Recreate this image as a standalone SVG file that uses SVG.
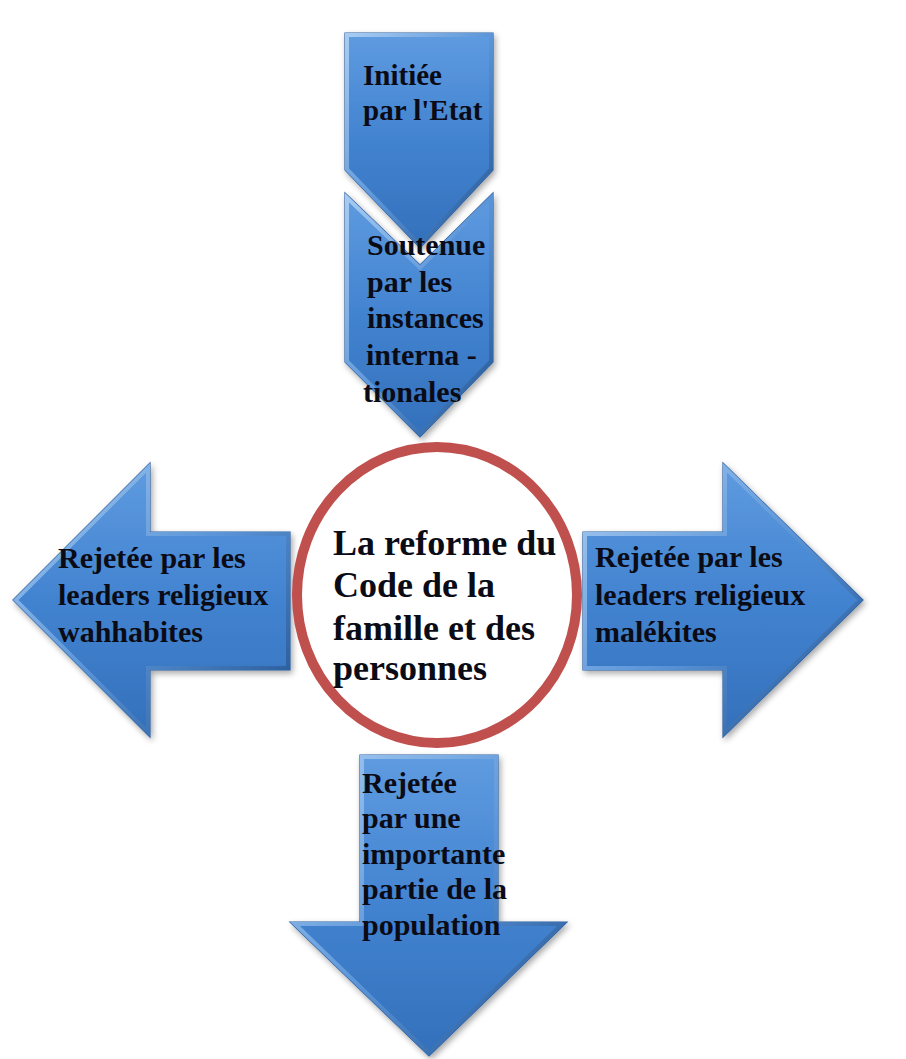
<svg xmlns="http://www.w3.org/2000/svg" xmlns:xlink="http://www.w3.org/1999/xlink" width="906" height="1059" viewBox="0 0 906 1059">
<style>
.shape{fill:url(#blueFill);stroke:#2c5f9e;stroke-width:1.2}
.bevel{fill:none;stroke:url(#bevelGrad);stroke-width:8}
.lbl{font-family:"Liberation Serif","Times New Roman",serif;font-weight:bold;font-size:30px;fill:#0b0b16}
.big{font-size:36px}
.sm{font-size:29px}
</style>
<defs>
<linearGradient id="blueFill" x1="0" y1="0" x2="0" y2="1">
<stop offset="0" stop-color="#5f9be0"/>
<stop offset="0.5" stop-color="#4283d0"/>
<stop offset="1" stop-color="#3470bb"/>
</linearGradient>
<linearGradient id="bevelGrad" x1="0" y1="0" x2="1" y2="1">
<stop offset="0" stop-color="#a9cdf3"/>
<stop offset="0.5" stop-color="#5b95d8"/>
<stop offset="1" stop-color="#1f4f8c"/>
</linearGradient>
<filter id="shadow" x="-10%" y="-10%" width="130%" height="130%">
<feGaussianBlur in="SourceAlpha" stdDeviation="3"/>
<feOffset dx="2" dy="3" result="b"/>
<feComponentTransfer><feFuncA type="linear" slope="0.35"/></feComponentTransfer>
<feMerge><feMergeNode/><feMergeNode in="SourceGraphic"/></feMerge>
</filter>
<path id="pChev1" d="M345,33 H493 V170 L420,248 L345,170 Z"/>
<path id="pChev2" d="M345,193 L420,265 L493,193 V362 L420,437 L345,362 Z"/>
<path id="pLeft" d="M13,600 L150,463 V532 H290 V670 H150 V737 Z"/>
<path id="pRight" d="M583,532 H723 V463 L863,600 L723,737 V670 H583 Z"/>
<path id="pBottom" d="M360,755 H498 V922 H567 L429,1056 L290,922 H360 Z"/>
<clipPath id="cChev1"><use xlink:href="#pChev1"/></clipPath>
<clipPath id="cChev2"><use xlink:href="#pChev2"/></clipPath>
<clipPath id="cLeft"><use xlink:href="#pLeft"/></clipPath>
<clipPath id="cRight"><use xlink:href="#pRight"/></clipPath>
<clipPath id="cBottom"><use xlink:href="#pBottom"/></clipPath>
</defs>
<rect width="906" height="1059" fill="#ffffff"/>
<g id="connectors"/>
<g id="node-initiee">
<use xlink:href="#pChev1" class="shape" filter="url(#shadow)"/>
<use xlink:href="#pChev1" class="bevel" clip-path="url(#cChev1)"/>
<text class="lbl sm" x="363" y="85">Initiée</text>
<text class="lbl sm" x="363" y="120">par l'Etat</text>
</g>
<g id="node-soutenue">
<use xlink:href="#pChev2" class="shape" filter="url(#shadow)"/>
<use xlink:href="#pChev2" class="bevel" clip-path="url(#cChev2)"/>
<text class="lbl" x="367" y="255">Soutenue</text>
<text class="lbl" x="367" y="292">par les</text>
<text class="lbl" x="367" y="328">instances</text>
<text class="lbl" x="366" y="365">interna -</text>
<text class="lbl" x="363" y="402">tionales</text>
</g>
<g id="node-wahhabites">
<use xlink:href="#pLeft" class="shape" filter="url(#shadow)"/>
<use xlink:href="#pLeft" class="bevel" clip-path="url(#cLeft)"/>
<text class="lbl" x="58" y="568">Rejetée par les</text>
<text class="lbl" x="58" y="605">leaders religieux</text>
<text class="lbl" x="58" y="642">wahhabites</text>
</g>
<g id="node-malekites">
<use xlink:href="#pRight" class="shape" filter="url(#shadow)"/>
<use xlink:href="#pRight" class="bevel" clip-path="url(#cRight)"/>
<text class="lbl" x="595" y="567">Rejetée par les</text>
<text class="lbl" x="595" y="605">leaders religieux</text>
<text class="lbl" x="595" y="642">malékites</text>
</g>
<g id="node-population">
<use xlink:href="#pBottom" class="shape" filter="url(#shadow)"/>
<use xlink:href="#pBottom" class="bevel" clip-path="url(#cBottom)"/>
<text class="lbl" x="362" y="793">Rejetée</text>
<text class="lbl" x="362" y="828">par une</text>
<text class="lbl" x="362" y="864">importante</text>
<text class="lbl" x="362" y="899">partie de la</text>
<text class="lbl" x="362" y="935">population</text>
</g>
<g id="node-reforme">
<ellipse cx="437" cy="595" rx="140" ry="148" fill="#ffffff" stroke="#c0504d" stroke-width="10"/>
<text class="lbl big" x="333" y="555">La reforme du</text>
<text class="lbl big" x="333" y="597">Code de la</text>
<text class="lbl big" x="333" y="640">famille et des</text>
<text class="lbl big" x="333" y="680">personnes</text>
</g>
</svg>
